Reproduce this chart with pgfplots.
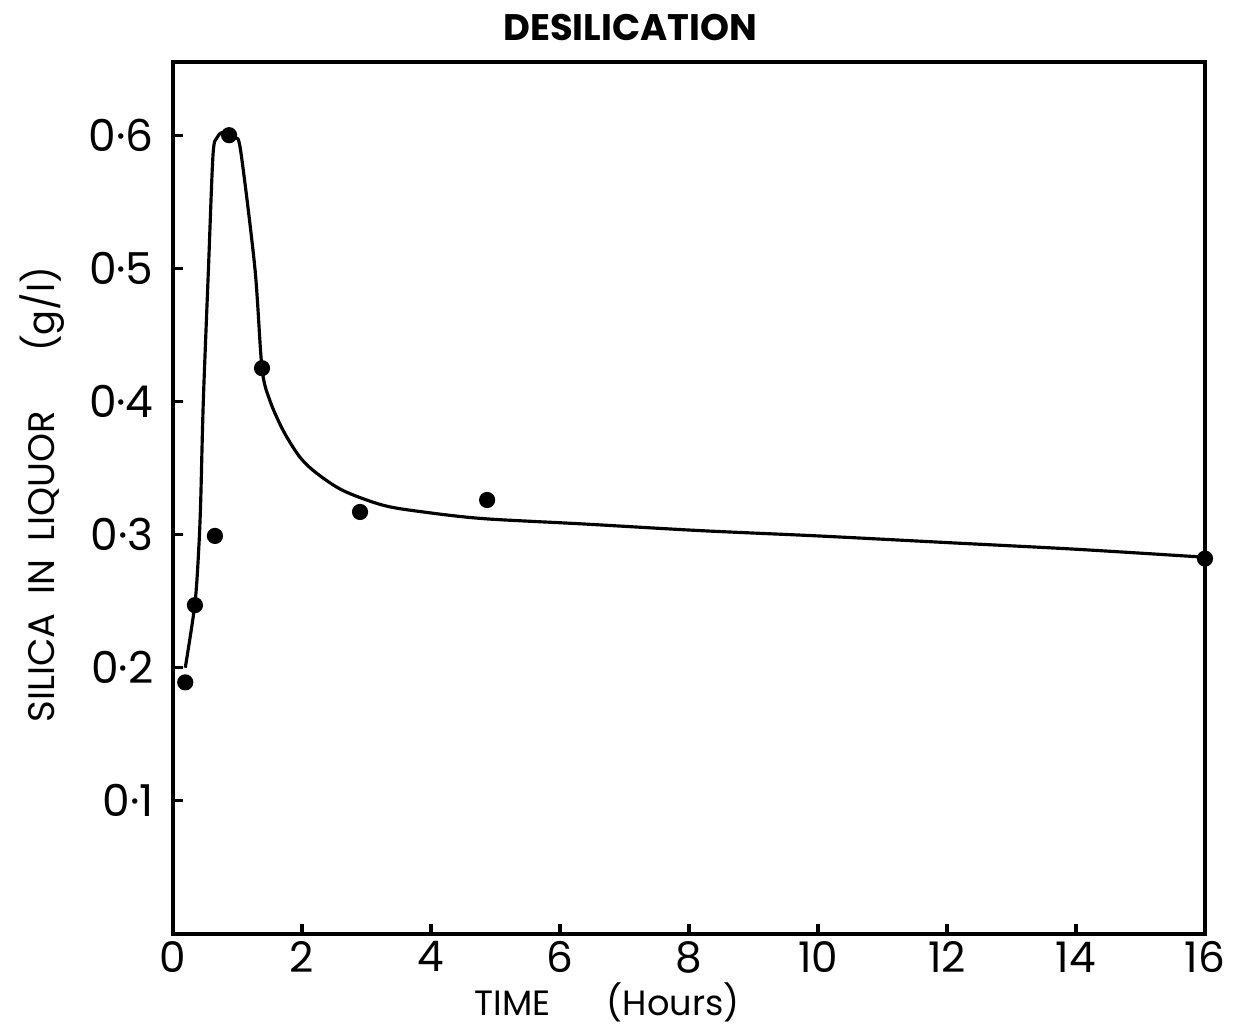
\documentclass[border=0pt]{standalone}
\usepackage{pgfplots}
\pgfplotsset{compat=1.18}
\usepackage{fontspec}
\setmainfont{Poppins}
\begin{document}
\begin{tikzpicture}
\begin{axis}[
  scale only axis,
  width=10.32cm, height=8.72cm,
  xmin=0, xmax=16, ymin=0, ymax=0.655,
  axis line style={line width=1.1pt},
  xtick={0,2,...,16},
  ytick={0.1,0.2,0.3,0.4,0.5,0.6},
  yticklabels={0·1,0·2,0·3,0·4,0·5,0·6},
  xticklabel style={font=\fontsize{12}{13}\selectfont, inner ysep=1pt},
  yticklabel style={font=\fontsize{12.5}{14}\selectfont},
  /pgf/number format/assume math mode=true,
  tick align=inside,
  xtick pos=bottom, ytick pos=left,
  major tick length=0.1cm,
  tick style={line width=0.9pt, black},
  xticklabel shift=1pt,
  yticklabel shift=2pt,
  clip=false,
]
\addplot[line width=0.9pt, smooth, tension=0.5] coordinates {
(0.19,0.200) (0.34,0.248) (0.40,0.290) (0.43,0.326) (0.47,0.400) (0.55,0.500)
(0.62,0.585) (0.68,0.598) (0.76,0.602) (0.87,0.602) (0.97,0.598) (1.05,0.588)
(1.27,0.500) (1.38,0.425) (1.50,0.401) (1.71,0.378) (1.97,0.358) (2.23,0.346)
(2.64,0.333) (3.26,0.322) (3.88,0.317) (4.81,0.312) (6.36,0.308) (8.17,0.303)
(10,0.299) (12,0.294) (14,0.289) (16,0.283)
};
\addplot[only marks, mark=*, mark size=2.1pt, black] coordinates {
(0.19,0.189) (0.34,0.247) (0.65,0.299) (0.87,0.600) (1.38,0.425)
(2.90,0.317) (4.87,0.326) (16,0.282)
};
\node[font=\fontsize{10.5}{12}\selectfont\bfseries] at (axis cs:7.09,0.681) {DESILICATION};
\node[font=\fontsize{10}{12}\selectfont, inner ysep=0pt] at (axis cs:6.73,-0.051) {TIME\hspace{1.6em}(Hours)};
\node[font=\fontsize{10.5}{12}\selectfont, rotate=90] at ([xshift=-1.31cm]axis cs:0,0.33) {SILICA\hspace{0.5em}IN\hspace{0.5em}LIQUOR\hspace{1.6em}(g/l)};
\end{axis}
\pgfresetboundingbox
\path[use as bounding box] (-1.73cm,-0.92cm) rectangle (10.62cm,9.34cm);
\end{tikzpicture}
\end{document}
